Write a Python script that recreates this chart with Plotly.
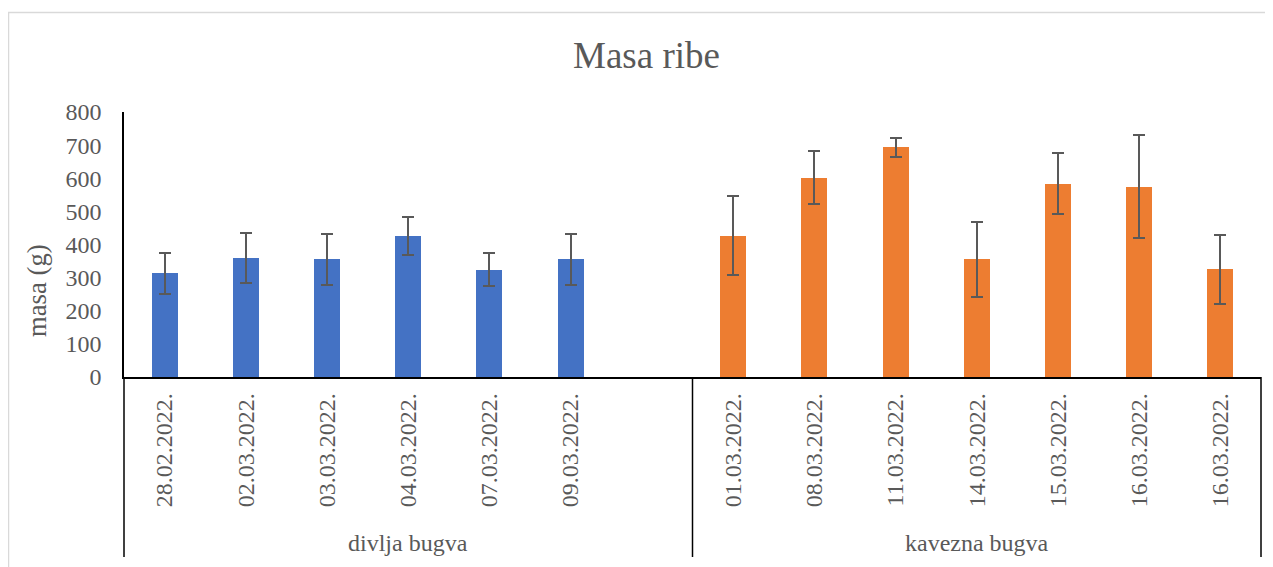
import plotly.graph_objects as go

# ---- data ----
title_text = "Masa ribe"
y_title = "masa (g)"
group_names = ["divlja bugva", "kavezna bugva"]
div_dates = ["28.02.2022.", "02.03.2022.", "03.03.2022.", "04.03.2022.", "07.03.2022.", "09.03.2022."]
div_mass = [313, 359, 356, 426, 324, 355]
div_err = [62, 76, 77, 58, 50, 78]
kav_dates = ["01.03.2022.", "08.03.2022.", "11.03.2022.", "14.03.2022.", "15.03.2022.", "16.03.2022.", "16.03.2022."]
kav_mass = [427, 602, 693, 355, 584, 575, 325]
kav_err = [118, 81, 28, 113, 91, 155, 104]
y_ticks = [0, 100, 200, 300, 400, 500, 600, 700, 800]

# ---- layout helpers ----
slots_per_group = max(len(div_dates), len(kav_dates))
n_slots = 2 * slots_per_group
x_div = list(range(len(div_dates)))
x_kav = [slots_per_group + i for i in range(len(kav_dates))]

FONT = "Liberation Serif, Times New Roman, serif"
GRAY = "#595959"

OFF = 8  # page body margin offset
W, H = 1273 - OFF, 567 - OFF
L, R, T, B = 124 - OFF, 12, 112 - OFF, 190
plot_h = H - T - B
plot_w = W - L - R

def py(pix):  # page pixel y -> paper y
    return (H - B - (pix - OFF)) / plot_h

def px(pix):  # page pixel x -> paper x
    return ((pix - OFF) - L) / plot_w

fig = go.Figure()
err_style = dict(type="data", color=GRAY, thickness=2, width=6)
fig.add_trace(go.Bar(x=x_div, y=div_mass, error_y=dict(array=div_err, **err_style),
                     marker=dict(color="#4472C4", line=dict(width=0)), width=0.32,
                     name=group_names[0], showlegend=False))
fig.add_trace(go.Bar(x=x_kav, y=kav_mass, error_y=dict(array=kav_err, **err_style),
                     marker=dict(color="#ED7D31", line=dict(width=0)), width=0.32,
                     name=group_names[1], showlegend=False))

shapes = []
# outer chart border
shapes.append(dict(type="rect", xref="paper", yref="paper", x0=px(8.5), x1=px(1273 + 20),
                   y0=py(567 + 20), y1=py(12.5), line=dict(color="#d9d9d9", width=1.5)))
# group divider lines below the axis
for xp in [0, 0.5, 1]:
    shapes.append(dict(type="line", xref="paper", yref="paper", x0=xp, x1=xp,
                       y0=0, y1=py(557), line=dict(color="black", width=1.5)))

annotations = [
    dict(text=y_title, xref="paper", yref="paper", x=px(37), y=py(291), textangle=-90,
         showarrow=False, font=dict(family=FONT, size=26.7, color=GRAY),
         xanchor="center", yanchor="middle"),
    dict(text=group_names[0], xref="paper", yref="paper", x=0.25, y=py(543),
         showarrow=False, font=dict(family=FONT, size=24, color=GRAY),
         xanchor="center", yanchor="middle"),
    dict(text=group_names[1], xref="paper", yref="paper", x=0.75, y=py(543),
         showarrow=False, font=dict(family=FONT, size=24, color=GRAY),
         xanchor="center", yanchor="middle"),
]

fig.update_layout(
    width=W, height=H, autosize=False,
    margin=dict(l=L, r=R, t=T, b=B),
    paper_bgcolor="white", plot_bgcolor="white",
    title=dict(text=title_text, x=(646.5 - OFF) / W, xref="container", xanchor="center",
               y=1 - (55 - OFF) / H, yref="container", yanchor="middle",
               font=dict(family=FONT, size=37, color=GRAY)),
    bargap=0,
    shapes=shapes, annotations=annotations,
    xaxis=dict(range=[-0.5, n_slots - 0.5], tickmode="array",
               tickvals=x_div + x_kav, ticktext=div_dates + kav_dates,
               tickangle=-90, showgrid=False, zeroline=False,
               showline=True, linecolor="black", linewidth=1.5,
               ticks="", ticklabelstandoff=5,
               tickfont=dict(family=FONT, size=24, color=GRAY)),
    yaxis=dict(range=[0, 800], tickmode="array", tickvals=y_ticks,
               showgrid=False, zeroline=False, showline=True, linecolor="black",
               linewidth=1.5, ticks="", ticklabelstandoff=16,
               tickfont=dict(family=FONT, size=24, color=GRAY)),
)

fig.write_html("out.html")
